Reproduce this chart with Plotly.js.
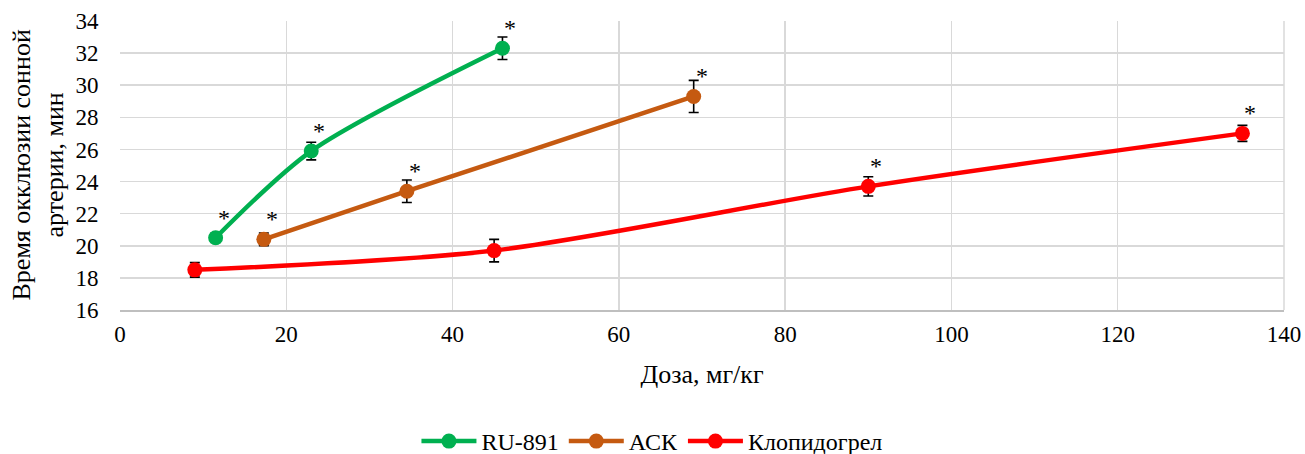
<!DOCTYPE html>
<html>
<head>
<meta charset="utf-8">
<script src="https://cdn.plot.ly/plotly-3.0.1.min.js"></script>
<style>
html,body{margin:0;padding:0;background:#fff;}
#chart{width:1305px;height:454px;}
</style>
</head>
<body>
<div id="chart"></div>
<script>
// Dose (mg/kg), carotid occlusion time (min) and SEM per compound
const ruDose = [11.5, 23, 46];
const ruTime = [20.5, 25.9, 32.3];
const ruErr = [0.3, 0.55, 0.7];

const askDose = [17.3, 34.5, 69];
const askTime = [20.4, 23.4, 29.3];
const askErr = [0.4, 0.7, 1.0];

const clopDose = [9, 45, 90, 135];
const clopTime = [18.5, 19.7, 23.7, 27.0];
const clopErr = [0.45, 0.7, 0.6, 0.5];

// Significance marks (1 = marked with *)
const ruSig = [1, 1, 1];
const askSig = [1, 1, 1];
const clopSig = [0, 0, 1, 1];

const names = ['RU-891', 'АСК', 'Клопидогрел'];
const colors = ['#00b050', '#c55a11', '#ff0000'];
const yTitle = 'Время окклюзии сонной<br>артерии, мин';
const xTitle = 'Доза, мг/кг';

const series = [
  [ruDose, ruTime, ruErr, ruSig],
  [askDose, askTime, askErr, askSig],
  [clopDose, clopTime, clopErr, clopSig]
];

const font = 'Liberation Serif';

const traces = series.map((s, i) => ({
  x: s[0], y: s[1], name: names[i], type: 'scatter', mode: 'lines+markers',
  line: {color: colors[i], width: 4.5, shape: 'spline', smoothing: 0.8},
  marker: {color: colors[i], size: 15},
  error_y: {type: 'data', array: s[2], visible: true, color: '#000', thickness: 1.6, width: 5}
}));

const annotations = [];
series.forEach(s => {
  s[0].forEach((xv, j) => {
    if (s[3][j]) {
      annotations.push({x: xv, y: s[1][j], text: '*', showarrow: false,
        xshift: 8, yshift: 20, font: {family: font, size: 24, color: '#000'}});
    }
  });
});

// Vertical axis title, two centred lines left of the tick labels
annotations.push({xref: 'paper', yref: 'paper', x: 0, y: 0.5, xshift: -82,
  xanchor: 'center', yanchor: 'middle', textangle: -90, showarrow: false,
  text: yTitle, font: {family: font, size: 26, color: '#000'}});

const layout = {
  width: 1305, height: 454,
  margin: {l: 120, r: 21, t: 21, b: 144, autoexpand: false},
  paper_bgcolor: '#fff', plot_bgcolor: '#fff',
  font: {family: font, size: 22, color: '#000'},
  showlegend: true,
  legend: {orientation: 'h', x: 0.457, xanchor: 'center', y: -0.455, yanchor: 'middle',
    font: {family: font, size: 24, color: '#000'}, tracegroupgap: 0, itemwidth: 55},
  xaxis: {
    range: [0, 140], dtick: 20, tick0: 0,
    showgrid: true, gridcolor: '#d9d9d9', gridwidth: 1.5,
    showline: true, linecolor: '#bfbfbf', linewidth: 1.5, mirror: false,
    zeroline: false, ticks: 'outside', ticklen: 3, tickcolor: 'rgba(0,0,0,0)',
    tickfont: {family: font, size: 23, color: '#000'},
    automargin: false,
    title: {text: xTitle, font: {family: font, size: 26, color: '#000'}, standoff: 18}
  },
  yaxis: {
    range: [16, 34], dtick: 2, tick0: 16,
    showgrid: true, gridcolor: '#d9d9d9', gridwidth: 1.5,
    showline: false, zeroline: false,
    ticks: 'outside', ticklen: 16, tickcolor: 'rgba(0,0,0,0)',
    tickfont: {family: font, size: 23, color: '#000'},
    automargin: false
  },
  shapes: [
    {type: 'line', xref: 'paper', yref: 'paper', x0: 1, x1: 1, y0: 0, y1: 1, line: {color: '#d9d9d9', width: 1.5}}
  ],
  annotations: annotations
};

Plotly.newPlot('chart', traces, layout, {displayModeBar: false, staticPlot: true});
</script>
</body>
</html>
